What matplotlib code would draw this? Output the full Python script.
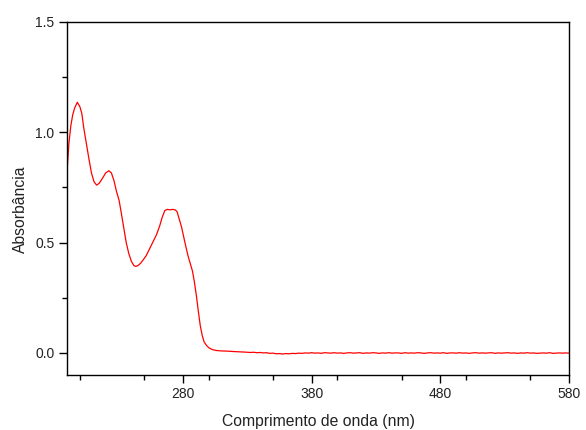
import matplotlib
matplotlib.use("Agg")
import matplotlib.pyplot as plt
from matplotlib.ticker import MultipleLocator

plt.rcParams['font.family'] = ['Liberation Sans', 'DejaVu Sans']

# Spectrum: steep region
wl_main = [190, 191.5, 193, 194.5, 196, 198, 200, 201.5, 203, 205, 207, 209, 211, 213,
           215, 218, 220, 222.5, 224.5, 226.5, 228.5, 230.5, 232, 234, 236, 238, 240,
           242, 243.5, 245, 247, 249, 251.5, 254, 256.5, 259.5, 262, 264, 266, 268,
           270, 272, 274, 275.5, 277, 279, 280.5, 282, 284, 286, 287.5, 289, 290.5,
           292, 293.5, 295, 296.5, 298.5, 300.5, 303, 306, 310, 315, 320, 325]
abs_main = [0.82, 0.95, 1.03, 1.08, 1.11, 1.135, 1.115, 1.085, 1.02, 0.95, 0.88, 0.815,
            0.775, 0.76, 0.768, 0.795, 0.815, 0.825, 0.815, 0.78, 0.73, 0.69, 0.64,
            0.57, 0.50, 0.45, 0.415, 0.395, 0.392, 0.395, 0.405, 0.42, 0.44, 0.47,
            0.50, 0.535, 0.575, 0.615, 0.645, 0.65, 0.648, 0.65, 0.648, 0.64, 0.61,
            0.57, 0.53, 0.49, 0.44, 0.40, 0.37, 0.32, 0.26, 0.19, 0.125, 0.08, 0.05,
            0.033, 0.022, 0.015, 0.011, 0.009, 0.008, 0.006, 0.005]

# Flat baseline region (small noisy values)
wl_flat = [327.5 + 2.5 * i for i in range(102)]
abs_flat = [0.004, 0.003, 0.002, 0.003, 0.001, 0.002, 0.000, 0.001, -0.002, -0.001,
            -0.004, -0.003, -0.005, -0.003, -0.004, -0.002, -0.003, -0.001, -0.002, 0.000,
            -0.001, 0.001, -0.001, 0.000, -0.002, 0.001, 0.000, -0.001, 0.001, -0.001,
            0.000, -0.002, 0.000, 0.001, -0.001, 0.000, 0.001, -0.002, 0.000, -0.001,
            0.001, 0.000, -0.002, 0.000, -0.001, 0.001, -0.001, 0.000, 0.000, -0.002,
            0.001, -0.001, 0.000, -0.001, 0.001, 0.000, -0.002, 0.000, 0.001, -0.001,
            0.000, -0.001, 0.001, -0.002, 0.000, 0.000, -0.001, 0.001, -0.001, 0.000,
            -0.002, 0.000, 0.001, -0.001, 0.000, -0.001, 0.000, 0.001, -0.002, 0.000,
            -0.001, 0.000, 0.001, -0.001, 0.000, -0.002, 0.000, -0.001, 0.001, -0.001,
            0.000, -0.002, -0.001, 0.000, -0.001, 0.001, -0.002, -0.001, 0.000, -0.001,
            0.000, -0.001]

wl = wl_main + wl_flat
absorb = abs_main + abs_flat

x_major = [280, 380, 480, 580]
y_major = [0.0, 0.5, 1.0, 1.5]

fig = plt.figure(figsize=(5.86, 4.30), dpi=100)
ax = fig.add_axes([67 / 586, 1 - 375 / 430, (569 - 67) / 586, (375 - 21.7) / 430])

ax.plot(wl, absorb, color='#ff0000', linewidth=0.9)

ax.set_xlim(190, 580)
ax.set_ylim(-0.1, 1.5)
ax.set_xticks(x_major)
ax.set_xticklabels([str(v) for v in x_major])
ax.xaxis.set_minor_locator(MultipleLocator(50))
ax.set_yticks(y_major)
ax.set_yticklabels([f"{v:.1f}" for v in y_major])
ax.yaxis.set_minor_locator(MultipleLocator(0.25))

ax.tick_params(which='major', direction='out', length=5.5, width=1.0, labelsize=10,
               top=False, right=False, color='black', labelcolor='#222222')
ax.tick_params(which='minor', direction='out', length=3.5, width=1.0,
               top=False, right=False)
for s in ax.spines.values():
    s.set_linewidth(1.0)

ax.set_xlabel('Comprimento de onda (nm)', fontsize=11.3, color='#222222', labelpad=9)
ax.set_ylabel('Absorbância', fontsize=11.3, color='#222222')
ax.yaxis.set_label_coords((28 - 67.3) / 502, 0.47)

fig.savefig('out.png', dpi=100)
